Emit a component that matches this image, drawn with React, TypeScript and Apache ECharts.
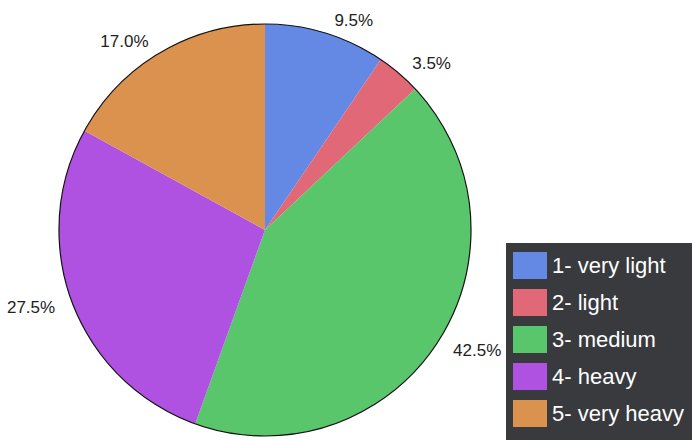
import React, { useEffect, useRef } from "react";
import * as echarts from "echarts";

const categories = ["1- very light", "2- light", "3- medium", "4- heavy", "5- very heavy"];
const values = [9.5, 3.5, 42.5, 27.5, 17.0];
const colors = ["#6489e4", "#e06877", "#5ac66b", "#b052e1", "#db924f"];

export default function App() {
  const ref = useRef<HTMLDivElement>(null);
  useEffect(() => {
    if (!ref.current) return;
    const chart = echarts.init(ref.current, undefined, { renderer: "svg" });
    chart.setOption({
      animation: false,
      legend: {
        data: categories,
        orient: "vertical",
        left: 506,
        top: 243,
        icon: "rect",
        itemWidth: 34,
        itemHeight: 27,
        itemGap: 10,
        padding: [9, 14, 13, 7],
        backgroundColor: "#393a3e",
        textStyle: { color: "#ffffff", fontSize: 22, fontFamily: "Liberation Sans, Arial, sans-serif" },
      },
      series: [
        {
          type: "pie",
          center: [265, 230],
          radius: 206,
          startAngle: 90,
          clockwise: true,
          avoidLabelOverlap: false,
          percentPrecision: 1,
          itemStyle: { borderWidth: 0 },
          label: {
            show: true,
            position: "outside",
            formatter: (p: any) => p.percent.toFixed(1) + "%",
            fontSize: 17,
            color: "#222",
            fontFamily: "Liberation Sans, Arial, sans-serif",
            distanceToLabelLine: 5,
          },
          labelLine: { show: false, length: 13, length2: 0 },
          emphasis: { disabled: true },
          data: categories.map((c, i) => ({ name: c, value: values[i], itemStyle: { color: colors[i] } })),
        },
        {
          type: "pie",
          center: [265, 230],
          radius: 206,
          silent: true,
          label: { show: false },
          labelLine: { show: false },
          itemStyle: { color: "rgba(0,0,0,0)", borderColor: "#111", borderWidth: 1.2 },
          data: [{ name: "__outline", value: 1 }],
        },
      ],
    });
    return () => chart.dispose();
  }, []);
  return <div ref={ref} style={{ width: 692, height: 440, position: "absolute", left: 0, top: 0 }} />;
}
